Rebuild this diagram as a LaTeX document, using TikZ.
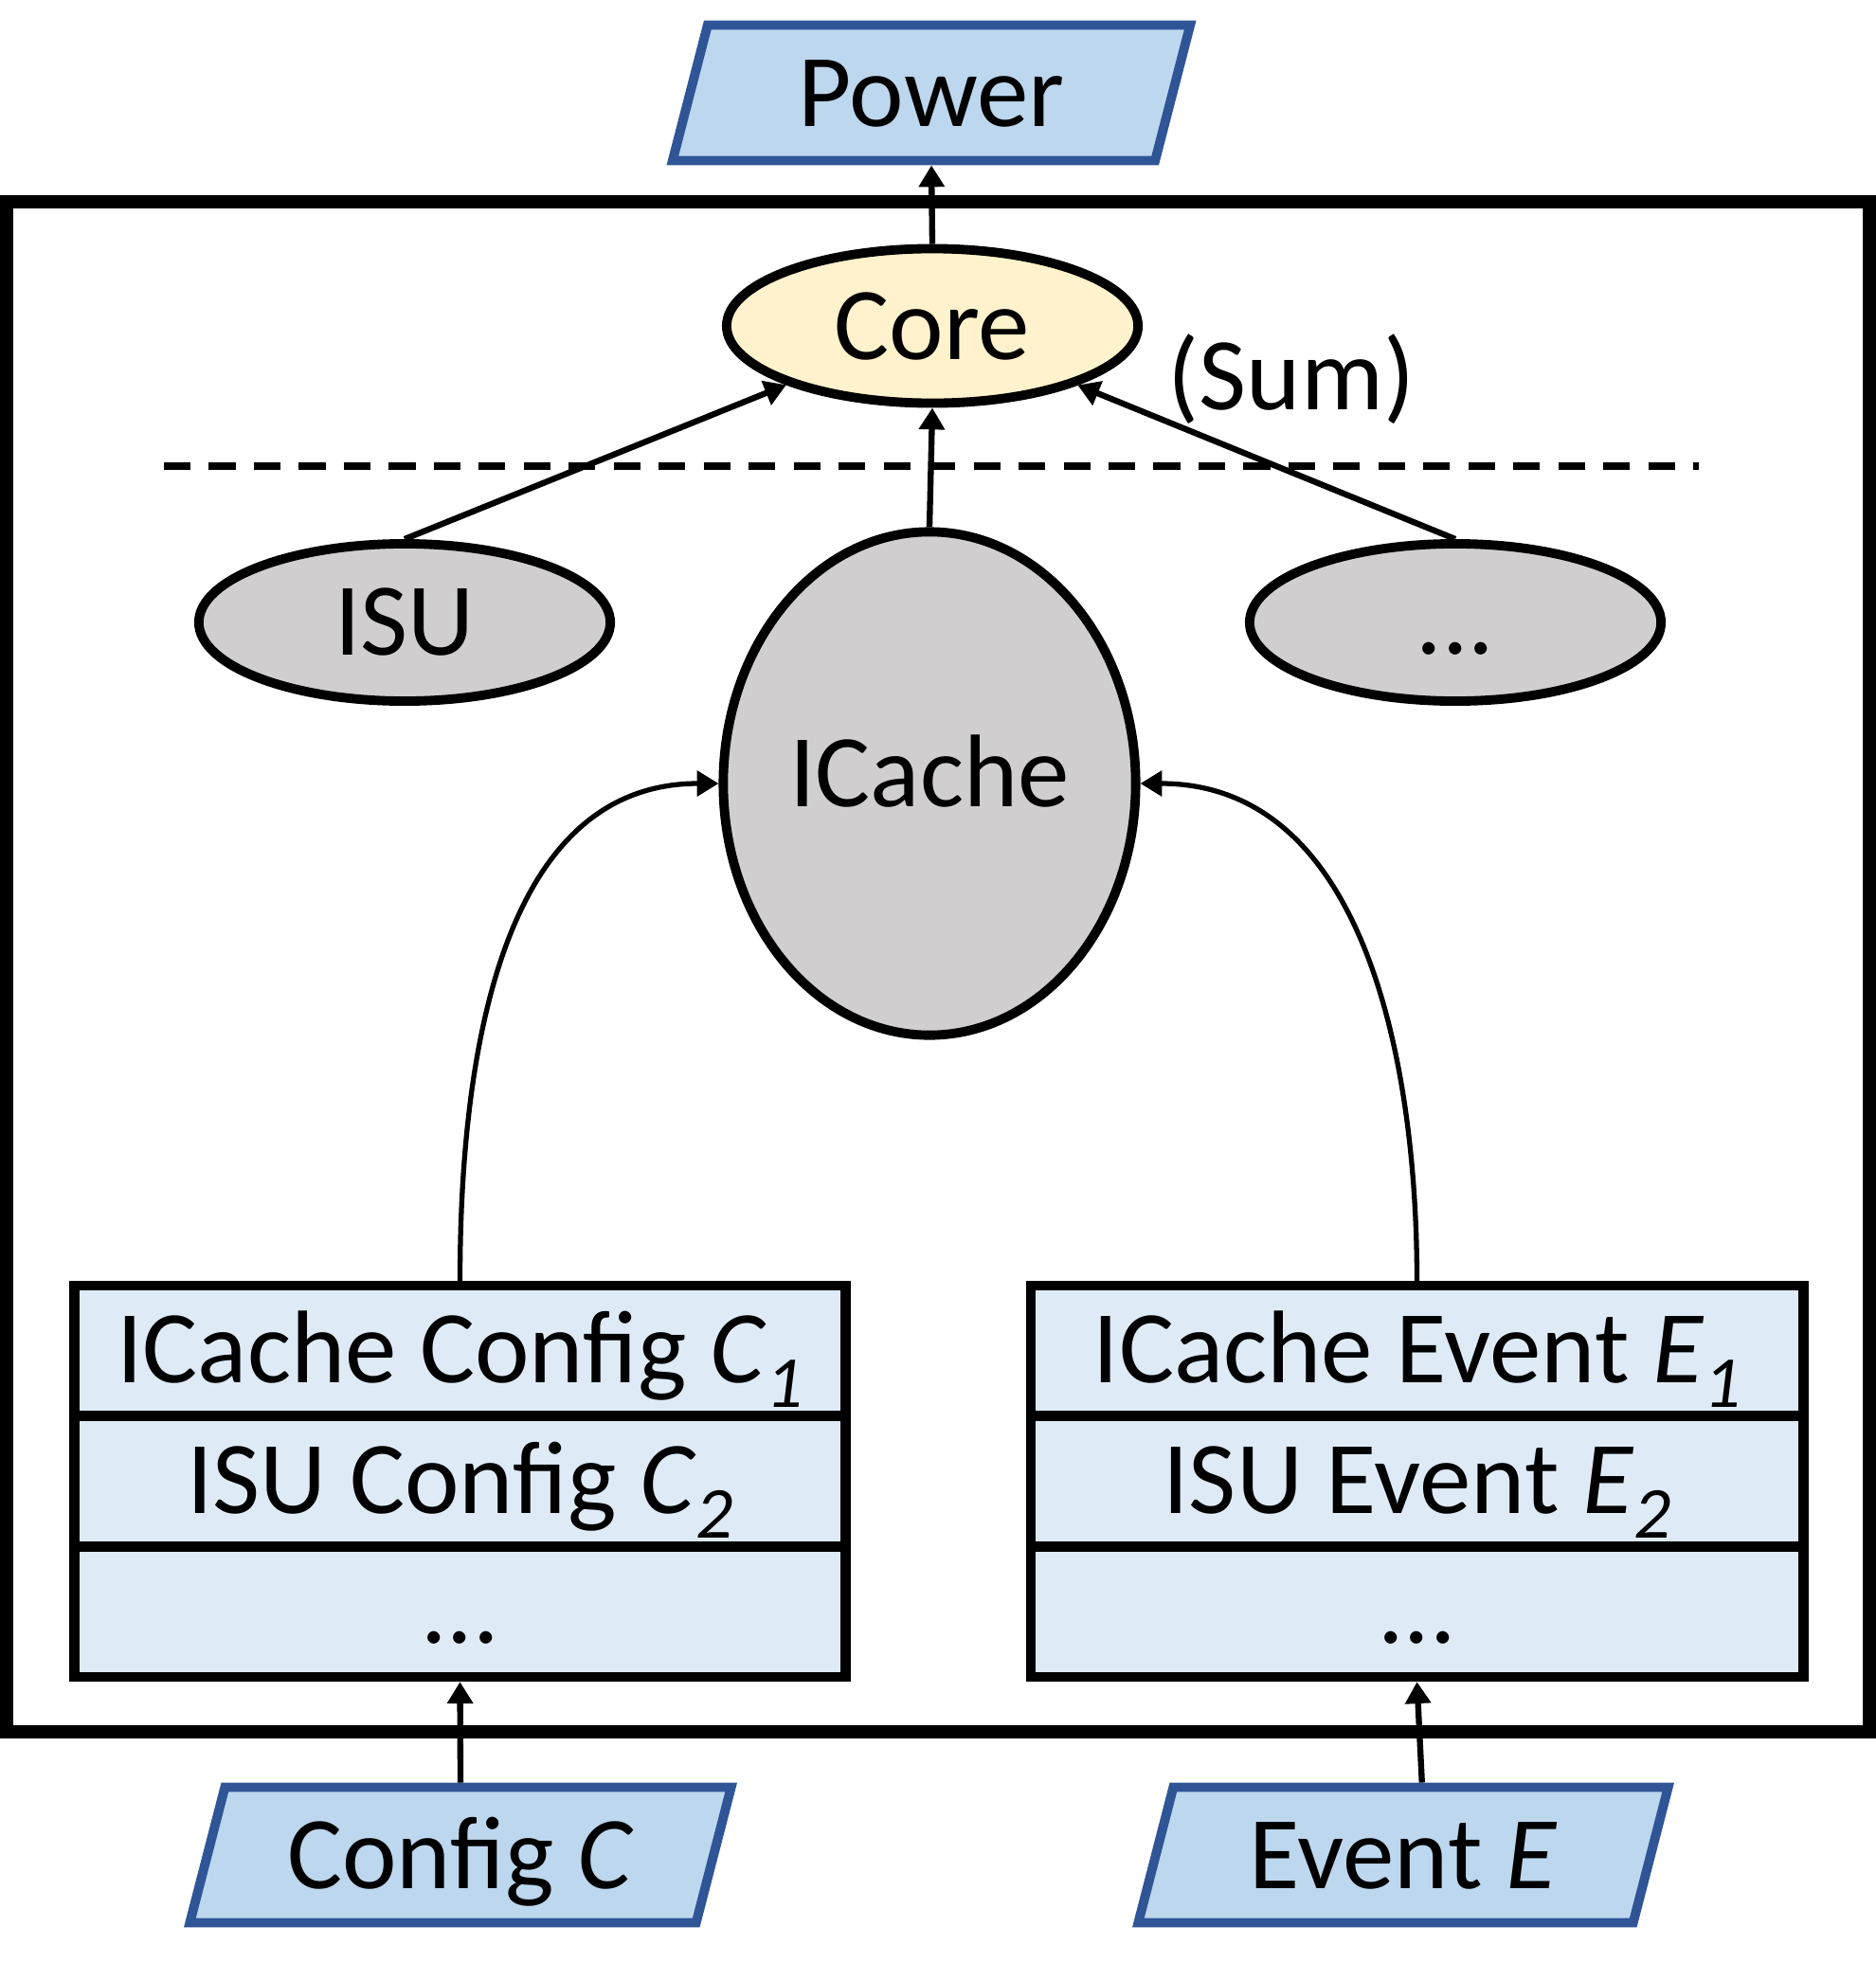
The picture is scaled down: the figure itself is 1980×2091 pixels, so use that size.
\documentclass[tikz,border=0pt]{standalone}
\usepackage{fontspec}
\setmainfont{Carlito}
\usetikzlibrary{arrows.meta,positioning,shapes.geometric,shapes.multipart}
\definecolor{inport}{HTML}{BDD7EE}
\definecolor{inportline}{HTML}{2F5597}
\definecolor{corefill}{HTML}{FFF2CC}
\definecolor{unitfill}{HTML}{D0CECE}
\definecolor{rowfill}{HTML}{DEEBF7}
\newcommand{\lowidx}[1]{\raisebox{-7.5pt}{\fontsize{22}{22}\selectfont\itshape #1}}
\newcommand{\rowstrut}{\rule[-0.30cm]{0pt}{1.27cm}}

\begin{document}
\begin{tikzpicture}[x=0.01cm, y=0.01cm,
  every node/.style={font=\fontsize{31}{37}\selectfont},
  inport/.style={trapezium, trapezium left angle=75.5, trapezium right angle=104.5,
                 trapezium stretches body, draw=inportline, fill=inport,
                 line width=2.8pt, text height=1.07cm, text depth=0.36cm, inner sep=0pt},
  unit/.style={ellipse, draw, line width=2.8pt, fill=unitfill, inner sep=0pt},
  rows/.style={rectangle split, rectangle split parts=3, draw, fill=rowfill,
               line width=3pt, inner ysep=0pt, align=center},
  arr/.style={-{Triangle[length=6.5pt,width=7.5pt]}, line width=1.8pt},
  curvearr/.style={-{Triangle[length=6.5pt,width=7.5pt]}, line width=1.5pt}
]
  \useasboundingbox (0,0) rectangle (1980,-2091);

  % Frame
  \draw[line width=4pt] (7,-213) rectangle (1973,-1828);

  % Output
  \node[inport, minimum width=5.46cm] (power) at (983,-98) {Power};

  % Units
  \node[unit, fill=corefill, minimum width=4.34cm, minimum height=1.63cm] (core) at (984,-344) {Core};
  \node (sumlbl) at (1363,-400) {(Sum)};
  \node[unit, minimum width=4.34cm, minimum height=1.66cm] (isu) at (427,-657) {ISU};
  \node[unit, minimum width=4.35cm, minimum height=5.31cm, text depth=0.27cm] (icache) at (981,-827) {ICache};
  \node[unit, minimum width=4.34cm, minimum height=1.66cm, text height=0.68cm] (more) at (1536,-657) {...};

  \coordinate (dashL) at (173,-492);
  \coordinate (dashR) at (1793,-492);
  \draw[dashed, dash pattern=on 8pt off 5.5pt, line width=2.2pt] (dashL) -- (dashR);

  \draw[arr] (core.north) -- (power.south);
  \draw[arr] (isu.north) -- (core);
  \draw[arr] (icache.north) -- (core.south);
  \draw[arr] (more.north) -- (core);

  % Config / event tables
  \node[rows, minimum width=8.13cm] (cfgs) at (485.5,-1563.5)
    {\rowstrut ICache Config \textit{C}\lowidx{1}
     \nodepart{two}\rowstrut ISU Config \textit{C}\lowidx{2}
     \nodepart{three}\rowstrut ...};
  \node[rows, minimum width=8.15cm] (evts) at (1495.5,-1563.5)
    {\rowstrut ICache Event \textit{E}\lowidx{1}
     \nodepart{two}\rowstrut ISU Event \textit{E}\lowidx{2}
     \nodepart{three}\rowstrut ...};

  \draw[curvearr] (cfgs.north) to[out=90, in=180] (icache.west);
  \draw[curvearr] (evts.north) to[out=90, in=0] (icache.east);

  % Inputs
  \node[inport, minimum width=5.71cm] (cfg) at (486,-1958) {Config \textit{C}};
  \node[inport, minimum width=5.59cm] (evt) at (1481,-1958) {Event \textit{E}};

  \draw[arr] (cfg.north) -- (cfgs.south);
  \draw[arr] (evt.top side) -- (evts.south);
\end{tikzpicture}
\end{document}
